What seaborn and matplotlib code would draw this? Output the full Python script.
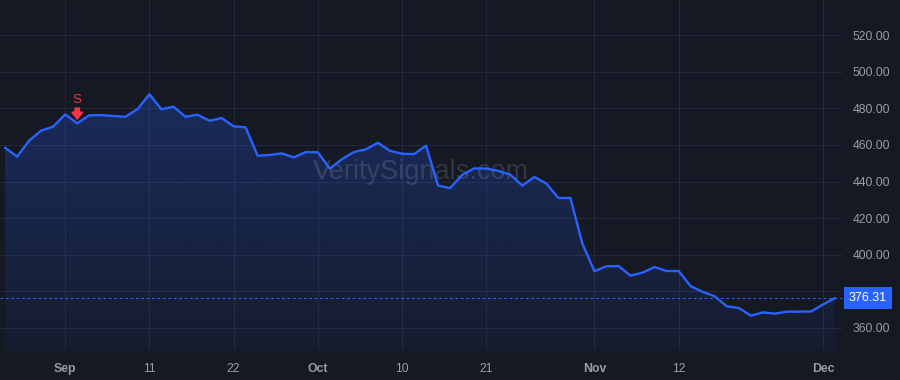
import numpy as np
import pandas as pd
import matplotlib
matplotlib.use("Agg")
import matplotlib.pyplot as plt
from matplotlib.transforms import blended_transform_factory
import seaborn as sns

# closing prices, one per bar
close = [458.5, 453.6, 462.3, 467.8, 470.0, 476.7, 471.8, 476.2, 476.3, 475.8,
         475.4, 479.5, 487.7, 479.5, 480.9, 475.4, 476.5, 473.2, 474.7, 470.2,
         469.6, 454.1, 454.5, 455.4, 453.2, 456.1, 456.0, 447.1, 452.2, 456.1,
         457.6, 461.2, 456.8, 455.2, 455.0, 459.6, 437.8, 436.4, 443.6, 447.2,
         447.1, 445.8, 443.8, 437.8, 442.5, 438.9, 431.0, 431.0, 406.0, 391.0,
         393.7, 393.8, 388.6, 390.2, 393.3, 391.1, 391.1, 382.8, 379.7, 377.3,
         371.8, 370.9, 366.7, 368.5, 367.8, 368.9, 368.9, 369.0, 372.8, 376.31]
bar = list(range(len(close)))

# time axis labels (bar index where each label sits)
tick_bars = [5, 12, 19, 26, 33, 40, 49, 56, 68]
tick_labels = ["Sep", "11", "22", "Oct", "10", "21", "Nov", "12", "Dec"]
month_labels = ["Sep", "Oct", "Nov", "Dec"]

price_ticks = [360, 380, 400, 420, 440, 460, 480, 500, 520]

sell_bar = 6
watermark = "VeritySignals.com"

BG = "#151924"
GRID = "#242937"
BLUE = "#2962ff"
RED = "#f23645"
TXT = "#9a9da6"

sns.set_theme(style="dark")
plt.rcParams["font.family"] = ["Liberation Sans", "DejaVu Sans"]

df = pd.DataFrame({"bar": bar, "close": close})

fig = plt.figure(figsize=(9, 3.8), dpi=100, facecolor=BG)
ax = fig.add_axes([0, 1 - 351 / 380, 842 / 900, 351 / 380])
ax.set_facecolor(BG)

ymin, ymax = 347.4, 539.2
x0, x1 = -0.42, 69.58

# gradient fill under the line
poly = ax.fill_between(df["bar"], df["close"], ymin, color="none", lw=0)
grad = np.zeros((256, 1, 4))
rgb = matplotlib.colors.to_rgb(BLUE)
grad[:, 0, 0:3] = rgb
grad[:, 0, 3] = np.linspace(0.05, 0.26, 256)
img = ax.imshow(grad, extent=[df["bar"].min(), df["bar"].max(), ymin, df["close"].max()],
                origin="lower", aspect="auto", zorder=1)
img.set_clip_path(poly.get_paths()[0], transform=ax.transData)

sns.lineplot(data=df, x="bar", y="close", color=BLUE, linewidth=1.7, ax=ax, zorder=3)

# watermark
ax.text(0.5, 0.51, watermark, transform=ax.transAxes, ha="center", va="center",
        fontsize=19.5, color="white", alpha=0.13, zorder=2)

# last price line + label
last = close[-1]
ax.axhline(last, color=BLUE, lw=0.75, ls=(0, (2.6, 2.6)), zorder=2)
trans = blended_transform_factory(ax.transAxes, ax.transData)
ax.text(1.0 + 26 / 842, last, f"{last:.2f}", transform=trans, ha="center", va="center",
        fontsize=9, color="white", clip_on=False, zorder=10,
        bbox=dict(boxstyle="square,pad=0.42", fc=BLUE, ec="none"))

# sell signal
sv = close[sell_bar]
ax.annotate("", xy=(sell_bar, sv), xytext=(0, 11), textcoords="offset points",
            xycoords="data",
            arrowprops=dict(arrowstyle="simple,head_length=0.42,head_width=0.65,tail_width=0.26",
                            color=RED, shrinkA=0, shrinkB=3), zorder=5)
ax.annotate("S", xy=(sell_bar, sv), xytext=(0, 17), textcoords="offset points",
            ha="center", va="center", fontsize=9.5, color=RED, zorder=5)

ax.set_xlim(x0, x1)
ax.set_ylim(ymin, ymax)

ax.set_xticks(tick_bars)
ax.set_xticklabels(tick_labels)
for lab in ax.get_xticklabels():
    if lab.get_text() in month_labels:
        lab.set_fontweight("bold")
ax.set_yticks(price_ticks)
ax.set_yticklabels([f"{p:.2f}" for p in price_ticks])
ax.yaxis.tick_right()
ax.tick_params(axis="y", length=0, pad=7.5, labelsize=8.8, labelcolor=TXT)
ax.tick_params(axis="x", length=0, pad=8.5, labelsize=8.8, labelcolor=TXT)
ax.grid(True, color=GRID, lw=0.8)
ax.set_xlabel("")
ax.set_ylabel("")
for s in ax.spines.values():
    s.set_visible(False)

fig.savefig("out.png", dpi=100, facecolor=BG)
